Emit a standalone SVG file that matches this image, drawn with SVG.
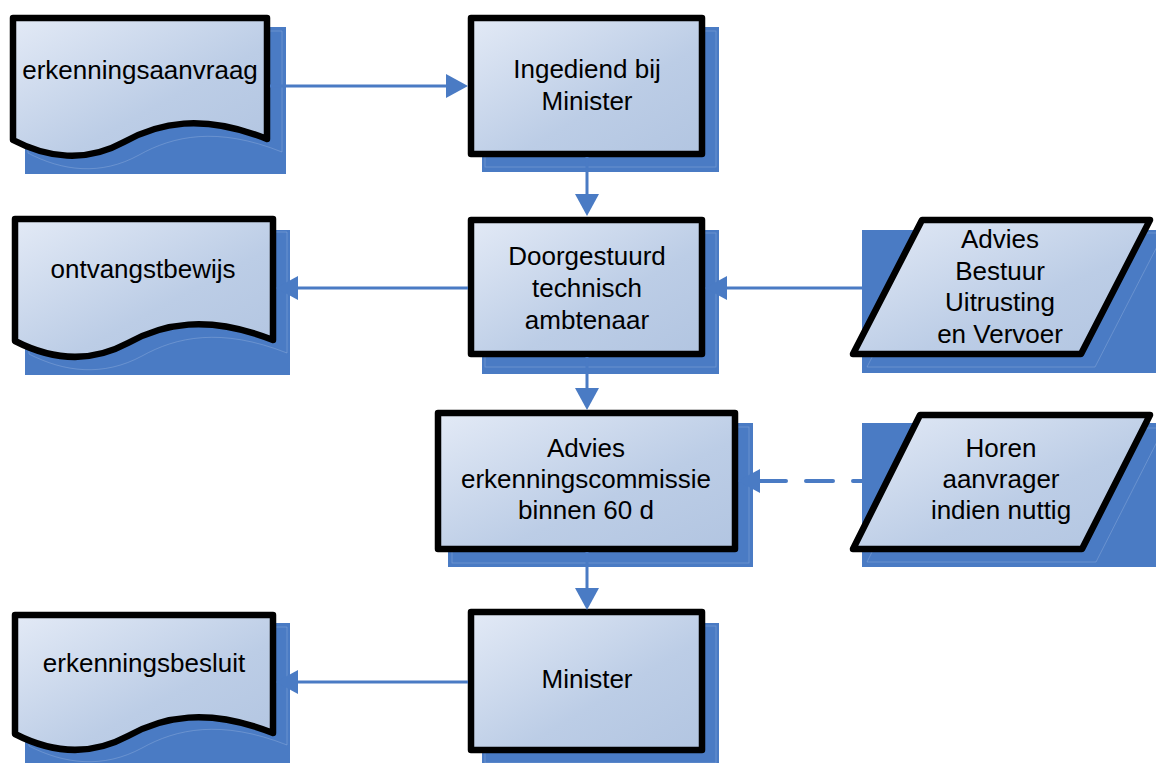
<svg xmlns="http://www.w3.org/2000/svg" width="1156" height="763" viewBox="0 0 1156 763">
<style>
.shadow{fill:#4a7bc4}
.faint{fill:none;stroke:#a3bde3;stroke-width:0.8;opacity:0.45}
.shape{fill:url(#g);stroke:#000;stroke-width:6.5;stroke-linejoin:round}
.lbl{font-family:"Liberation Sans",Arial,sans-serif;font-size:26px;fill:#000;text-anchor:middle}
.conn{stroke:#4a7bc4;stroke-width:3;fill:none}
.dash{stroke:#4a7bc4;stroke-width:4;fill:none;stroke-dasharray:27 20;stroke-linecap:round}
</style>
<defs>
<linearGradient id="g" x1="0" y1="0" x2="1" y2="1">
<stop offset="0" stop-color="#e3eaf6"/>
<stop offset="0.6" stop-color="#bccde6"/>
<stop offset="1" stop-color="#b2c5e1"/>
</linearGradient>
<marker id="ah" markerUnits="userSpaceOnUse" markerWidth="22" markerHeight="24" refX="0" refY="12" orient="auto">
<path d="M0,0 L22,12 L0,24 Z" fill="#4a7bc4"/>
</marker>
</defs>

<g id="doc-erkenningsaanvraag">
<rect class="shadow" x="25" y="27" width="261" height="147"/>
<path class="faint" transform="translate(28,31)" d="M0,0 H254 V121 C189,95 145,105 111,124 C73,145 34,140 0,122 Z"/>
<path class="shape" transform="translate(13,18)" d="M0,0 H254 V121 C189,95 145,105 111,124 C73,145 34,140 0,122 Z"/>
<text class="lbl" x="140" y="79">erkenningsaanvraag</text>
</g>

<g id="box-ingediend">
<rect class="shadow" x="482" y="27" width="237" height="145"/>
<rect class="faint" x="485" y="31" width="231" height="136"/>
<rect class="shape" x="471" y="18" width="231" height="136"/>
<text class="lbl" x="587" y="78">Ingediend bij</text>
<text class="lbl" x="587" y="110">Minister</text>
</g>

<g id="doc-ontvangstbewijs">
<rect class="shadow" x="25" y="230" width="265" height="145"/>
<path class="faint" transform="translate(29,232)" d="M0,0 H258 V121 C192,95 147,105 113,124 C74,145 35,140 0,122 Z"/>
<path class="shape" transform="translate(15,219)" d="M0,0 H258 V121 C192,95 147,105 113,124 C74,145 35,140 0,122 Z"/>
<text class="lbl" x="143" y="278">ontvangstbewijs</text>
</g>

<g id="box-doorgestuurd">
<rect class="shadow" x="482" y="230" width="237" height="144"/>
<rect class="faint" x="485" y="233" width="231" height="134"/>
<rect class="shape" x="471" y="220" width="231" height="134"/>
<text class="lbl" x="587" y="265">Doorgestuurd</text>
<text class="lbl" x="587" y="297">technisch</text>
<text class="lbl" x="587" y="329">ambtenaar</text>
</g>

<g id="para-advies-bestuur">
<rect class="shadow" x="862" y="230" width="294" height="143"/>
<polygon class="faint" points="936,233 1164,233 1095,367 867,367"/>
<polygon class="shape" points="922,220 1150,220 1081,354 853,354"/>
<text class="lbl" x="1000" y="248">Advies</text>
<text class="lbl" x="1000" y="280">Bestuur</text>
<text class="lbl" x="1000" y="311">Uitrusting</text>
<text class="lbl" x="1000" y="343">en Vervoer</text>
</g>

<g id="box-advies-commissie">
<rect class="shadow" x="448" y="423" width="305" height="144"/>
<rect class="faint" x="452" y="427" width="297" height="136"/>
<rect class="shape" x="438" y="413" width="297" height="136"/>
<text class="lbl" x="586" y="457">Advies</text>
<text class="lbl" x="586" y="488">erkenningscommissie</text>
<text class="lbl" x="586" y="519">binnen 60 d</text>
</g>

<g id="para-horen">
<rect class="shadow" x="862" y="423" width="294" height="144"/>
<polygon class="faint" points="934,428 1164,428 1096,562 867,562"/>
<polygon class="shape" points="920,415 1150,415 1082,549 853,549"/>
<text class="lbl" x="1001" y="457">Horen</text>
<text class="lbl" x="1001" y="488">aanvrager</text>
<text class="lbl" x="1001" y="519">indien nuttig</text>
</g>

<g id="box-minister">
<rect class="shadow" x="482" y="623" width="237" height="145"/>
<rect class="faint" x="485" y="626" width="231" height="137"/>
<rect class="shape" x="471" y="612" width="231" height="138"/>
<text class="lbl" x="587" y="688">Minister</text>
</g>

<g id="doc-erkenningsbesluit">
<rect class="shadow" x="25" y="623" width="265" height="145"/>
<path class="faint" transform="translate(29,627)" d="M0,0 H258 V118 C192,92 147,102 113,121 C74,142 35,137 0,119 Z"/>
<path class="shape" transform="translate(15,615)" d="M0,0 H258 V118 C192,92 147,102 113,121 C74,142 35,137 0,119 Z"/>
<text class="lbl" x="144" y="672">erkenningsbesluit</text>
</g>

<g id="connectors">
<line class="conn" x1="270" y1="86" x2="446" y2="86" marker-end="url(#ah)"/>
<line class="conn" x1="587" y1="157" x2="587" y2="194" marker-end="url(#ah)"/>
<line class="conn" x1="468" y1="288" x2="298" y2="288" marker-end="url(#ah)"/>
<line class="conn" x1="870" y1="288" x2="727" y2="288" marker-end="url(#ah)"/>
<line class="conn" x1="587" y1="357" x2="587" y2="388" marker-end="url(#ah)"/>
<line class="dash" x1="880" y1="481" x2="760" y2="481" marker-end="url(#ah)"/>
<line class="conn" x1="587" y1="552" x2="587" y2="588" marker-end="url(#ah)"/>
<line class="conn" x1="468" y1="682" x2="298" y2="682" marker-end="url(#ah)"/>
</g>
</svg>
